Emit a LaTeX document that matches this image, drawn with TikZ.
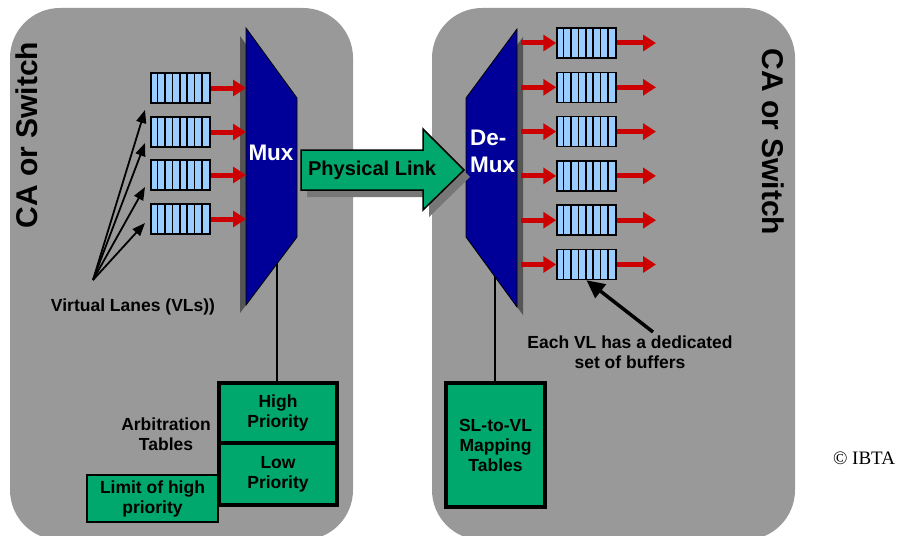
\documentclass[tikz,border=0pt]{standalone}
\usepackage{fontspec}
\setmainfont{Liberation Sans}
\newfontfamily\serifcopy{Liberation Serif}
\usetikzlibrary{arrows.meta}
\definecolor{bggray}{HTML}{999999}
\definecolor{muxblue}{HTML}{000099}
\definecolor{lanered}{HTML}{CC0000}
\definecolor{qblue}{HTML}{99CCFF}
\definecolor{tgreen}{HTML}{00A86E}
\definecolor{shadowgray}{HTML}{555555}
\definecolor{linkshadow}{HTML}{777777}
\begin{document}
\begin{tikzpicture}[x=1pt,y=-1pt,
  lbl/.style={font=\bfseries\fontsize{17.5}{20}\selectfont, align=center, inner sep=0pt},
  queue/.style={draw=black, line width=1.5pt, fill=qblue, minimum width=59pt, minimum height=30pt, inner sep=0pt},
  redarrow/.style={draw=lanered, line width=5pt, -{Triangle[length=13pt,width=16pt]}},
  fanarrow/.style={draw=black, line width=1.8pt, -{Triangle[length=13pt,width=10pt]}},
  tablebox/.style={draw=black, line width=4pt, fill=tgreen, inner sep=0pt, font=\bfseries\fontsize{17.5}{20}\selectfont, align=center},
  panel/.style={fill=bggray, rounded corners=50pt},
  stem/.style={draw=black, line width=2.5pt},
]
\useasboundingbox (0,0) rectangle (901,535);
\clip (0,0) rectangle (901,535);
% panels
\fill[panel] (10,8) rectangle (353,540);
\fill[panel] (432,8) rectangle (795,540);
% side titles
\node[font=\bfseries\fontsize{30}{32}\selectfont, rotate=90] (caleft) at (27,135) {CA or Switch};
\node[font=\bfseries\fontsize{30}{32}\selectfont, rotate=-90] (caright) at (773,142) {CA or Switch};
\node[font=\serifcopy\fontsize{19}{21}\selectfont] (copy) at (864,458) {\textcopyright{} IBTA};

% tables
\node[tablebox, minimum width=118pt, minimum height=60pt] (hp) at (278,413) {High\\Priority};
\node[tablebox, minimum width=118pt, minimum height=62pt] (lp) at (278,474) {Low\\Priority};
\node[draw=black, line width=2pt, fill=tgreen, minimum width=131pt, minimum height=47pt, inner sep=0pt,
      font=\bfseries\fontsize{17.5}{20}\selectfont, align=center] (limit) at (152.5,498.5) {Limit of high\\priority};
\node[tablebox, minimum width=99pt, minimum height=124pt] (sl) at (495.5,445) {SL-to-VL\\Mapping\\Tables};
\coordinate (muxfoot) at (277,250);
\coordinate (demuxfoot) at (495,260);
\draw[stem] (muxfoot) -- (muxfoot |- hp.north);
\draw[stem] (demuxfoot) -- (demuxfoot |- sl.north);

% Mux
\fill[shadowgray] (240,36) -- (291,106) -- (291,245) -- (240,313) -- cycle;
\draw[fill=muxblue, line width=0.8pt] (246,28) -- (297,98) -- (297,237) -- (246,305) -- cycle;
\node[font=\bfseries\fontsize{22.5}{27}\selectfont, text=white] (mux) at (271,153) {Mux};
\coordinate (muxin) at (246,150);

% DeMux
\fill[shadowgray] (472,106) -- (523,37) -- (523,315) -- (472,245) -- cycle;
\draw[fill=muxblue, line width=0.8pt] (466,98) -- (517,29) -- (517,307) -- (466,237) -- cycle;
\node[font=\bfseries\fontsize{22.5}{27}\selectfont, text=white, align=left, anchor=west, inner sep=0pt] (demux) at (470,151) {De-\\Mux};
\coordinate (demuxout) at (521,150);
\coordinate (outend) at (656,150);

% Physical link arrow
\fill[linkshadow] (307,157) -- (429,157) -- (429,136) -- (470,177) -- (429,217) -- (429,197) -- (307,197) -- cycle;
\draw[fill=tgreen, line width=1.5pt] (301,150) -- (423,150) -- (423,129) -- (464,170) -- (423,210) -- (423,190) -- (301,190) -- cycle;
\node[lbl, font=\bfseries\fontsize{20}{22}\selectfont] (plink) at (372,170) {Physical Link};

% left queues
\foreach \n/\y in {1/88,2/132,3/175,4/219}{
  \node[queue] (ql\n) at (180.5,\y) {};
  \foreach \k in {1,...,7}
    \draw[line width=1.5pt] ([xshift=\k*7.375pt]ql\n.north west) -- ([xshift=\k*7.375pt]ql\n.south west);
  \draw[redarrow] (ql\n.east) -- (ql\n.east -| muxin);
}
% right queues
\foreach \n/\y in {1/43,2/87.3,3/131.6,4/175.9,5/220.2,6/264.5}{
  \node[queue] (qr\n) at (586.5,\y) {};
  \foreach \k in {1,...,7}
    \draw[line width=1.5pt] ([xshift=\k*7.375pt]qr\n.north west) -- ([xshift=\k*7.375pt]qr\n.south west);
  \draw[redarrow] (qr\n.west -| demuxout) -- (qr\n.west);
  \draw[redarrow] (qr\n.east) -- (qr\n.east -| outend);
}

% fan of arrows to the lanes
\coordinate (fan) at (93,280);
\coordinate (ft1) at (145,110);
\coordinate (ft2) at (145,143);
\coordinate (ft3) at (145,187);
\coordinate (ft4) at (145,223);
\foreach \t in {ft1,ft2,ft3,ft4}
  \draw[fanarrow] (fan) -- (\t);
\node[lbl] (vls) at (133,307) {Virtual Lanes (VLs))};

% arbitration label
\node[lbl] (arb) at (166,434) {Arbitration\\Tables};

% Each VL note
\node[lbl] (eachvl) at (630,352) {Each VL has a dedicated\\set of buffers};
\coordinate (noteend) at (653,332);
\draw[draw=black, line width=3.5pt, -{Triangle[length=18pt,width=17pt]}] (noteend) -- (qr6.south);
\end{tikzpicture}
\end{document}
